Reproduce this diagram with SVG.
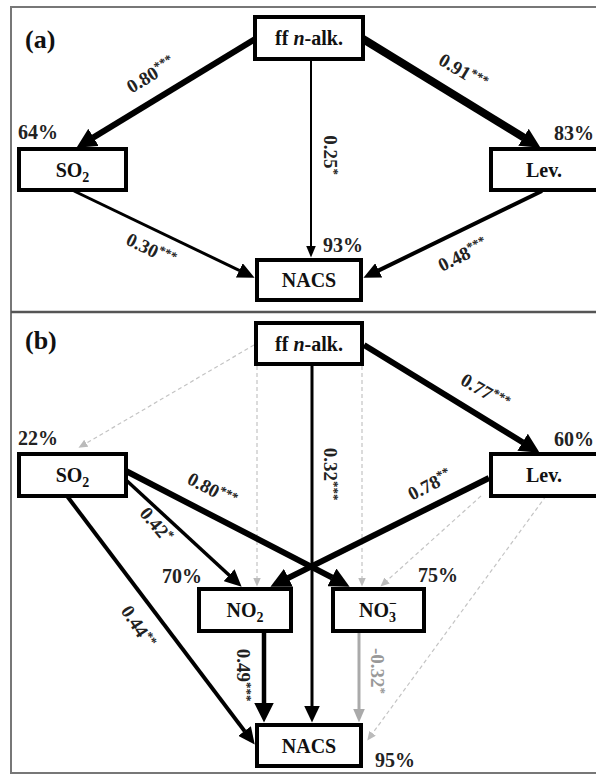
<svg xmlns="http://www.w3.org/2000/svg" width="596" height="774" viewBox="0 0 596 774">
<defs>
<style>
.box{fill:#fff;stroke:#000;stroke-width:4}
.nt{font-family:"Liberation Serif","Times New Roman",serif;font-weight:bold;font-size:20px;fill:#111;text-anchor:middle}
.pct{font-family:"Liberation Serif","Times New Roman",serif;font-weight:bold;font-size:20px;fill:#222}
.lbl{font-family:"Liberation Serif","Times New Roman",serif;font-weight:bold;font-size:19px;fill:#222;text-anchor:middle}
.gl{fill:#999}
.st{font-size:13px}
.pl{font-family:"Liberation Serif","Times New Roman",serif;font-weight:bold;font-size:26px;fill:#111}
.k{stroke:#000;fill:none}
.dg{stroke:#c4c4c4;stroke-width:1.2;stroke-dasharray:4 3;fill:none}
.sg{stroke:#aaa;stroke-width:3;fill:none}
</style>
<marker id="big" markerUnits="userSpaceOnUse" orient="auto" viewBox="0 -10 20 20" markerWidth="20" markerHeight="20" refX="0.5" refY="0"><path d="M0,-10 L20,0 L0,10 Z" fill="#000"/></marker>
<marker id="md" markerUnits="userSpaceOnUse" orient="auto" viewBox="0 -8 17 16" markerWidth="17" markerHeight="16" refX="0.5" refY="0"><path d="M0,-8 L17,0 L0,8 Z" fill="#000"/></marker>
<marker id="sm" markerUnits="userSpaceOnUse" orient="auto" viewBox="0 -5 12 10" markerWidth="12" markerHeight="10" refX="0.5" refY="0"><path d="M0,-5 L12,0 L0,5 Z" fill="#000"/></marker>
<marker id="gy" markerUnits="userSpaceOnUse" orient="auto" viewBox="0 -4 9 8" markerWidth="9" markerHeight="8" refX="0.5" refY="0"><path d="M0,-4 L9,0 L0,4 Z" fill="#bbb"/></marker>
<marker id="gy2" markerUnits="userSpaceOnUse" orient="auto" viewBox="0 -6 14 12" markerWidth="14" markerHeight="12" refX="0.5" refY="0"><path d="M0,-6 L14,0 L0,6 Z" fill="#aaa"/></marker>
</defs>

<g id="frame">
<rect x="11" y="7" width="600" height="766" fill="none" stroke="#777" stroke-width="2"/>
<line x1="11" y1="312" x2="596" y2="312" stroke="#555" stroke-width="2.5"/>
<text class="pl" x="25" y="48">(a)</text>
<text class="pl" x="25" y="349">(b)</text>
</g>

<g id="connectors">
<!-- panel a -->
<path class="k" d="M255,39 L93.1,137.6" stroke-width="6" marker-end="url(#big)"/>
<path class="k" d="M363,39 L523.9,137.6" stroke-width="8" marker-end="url(#big)"/>
<path class="k" d="M311,61 L311,246" stroke-width="2" marker-end="url(#sm)"/>
<path class="k" d="M74,191 L239.7,270.6" stroke-width="3" marker-end="url(#md)"/>
<path class="k" d="M542,191 L378.3,270.6" stroke-width="4" marker-end="url(#md)"/>
<!-- panel b -->
<path class="dg" d="M254,345 L85.8,443.5" marker-end="url(#gy)"/>
<path class="k" d="M364,345 L523,442.5" stroke-width="6" marker-end="url(#big)"/>
<path class="dg" d="M257,366 L257,578" marker-end="url(#gy)"/>
<path class="dg" d="M362,366 L362,578" marker-end="url(#gy)"/>
<path class="dg" d="M481,496 L386.7,580.9" marker-end="url(#gy)"/>
<path class="dg" d="M546,496 L372.3,733.7" marker-end="url(#gy)"/>
<path class="k" d="M312,366 L312,706" stroke-width="3" marker-end="url(#md)"/>
<path class="k" d="M126,480 L229.5,575.5" stroke-width="3.5" marker-end="url(#md)"/>
<path class="k" d="M126,471 L332.3,577.7" stroke-width="6" marker-end="url(#big)"/>
<path class="k" d="M489,478 L287.9,578.1" stroke-width="6" marker-end="url(#big)"/>
<path class="k" d="M67,496 L244.8,731.4" stroke-width="4" marker-end="url(#md)"/>
<path class="k" d="M264,633 L264,703" stroke-width="4.5" marker-end="url(#big)"/>
<path class="sg" d="M359,633 L359,709" marker-end="url(#gy2)"/>

<!-- labels -->
<text class="lbl" transform="translate(151,75) rotate(-31)" y="6">0.80<tspan class="st" dy="-6">***</tspan></text>
<text class="lbl" transform="translate(463,72) rotate(31)" y="6">0.91<tspan class="st" dy="-6">***</tspan></text>
<text class="lbl" transform="translate(330,155) rotate(90)" y="6">0.25<tspan class="st" dy="-6">*</tspan></text>
<text class="lbl" transform="translate(151,250) rotate(26)" y="6">0.30<tspan class="st" dy="-6">***</tspan></text>
<text class="lbl" transform="translate(463,255) rotate(-26)" y="6">0.48<tspan class="st" dy="-6">***</tspan></text>
<text class="lbl" transform="translate(485,392) rotate(31)" y="6">0.77<tspan class="st" dy="-6">***</tspan></text>
<text class="lbl" transform="translate(330,474) rotate(90)" y="6">0.32<tspan class="st" dy="-6">***</tspan></text>
<text class="lbl" transform="translate(212,490) rotate(28)" y="6">0.80<tspan class="st" dy="-6">***</tspan></text>
<text class="lbl" transform="translate(430,485) rotate(-27)" y="6">0.78<tspan class="st" dy="-6">**</tspan></text>
<text class="lbl" transform="translate(156,525) rotate(50)" y="6">0.42<tspan class="st" dy="-6">*</tspan></text>
<text class="lbl" transform="translate(138,627) rotate(57)" y="6">0.44<tspan class="st" dy="-6">**</tspan></text>
<text class="lbl" transform="translate(243,675) rotate(90)" y="6">0.49<tspan class="st" dy="-6">***</tspan></text>
<text class="lbl gl" transform="translate(377,671) rotate(90)" y="6">-0.32<tspan class="st" dy="-6">*</tspan></text>
</g>

<g id="ffa">
<rect class="box" x="255" y="17" width="108" height="42"/>
<text class="nt" x="309" y="45">ff <tspan font-style="italic">n</tspan>-alk.</text>
</g>
<g id="so2a">
<rect class="box" x="19" y="149" width="107" height="41"/>
<text class="nt" x="72.5" y="177">SO<tspan font-size="14" dy="5">2</tspan></text>
<text class="pct" x="18" y="139">64%</text>
</g>
<g id="leva">
<rect class="box" x="491" y="149" width="107" height="41"/>
<text class="nt" x="544" y="177">Lev.</text>
<text class="pct" x="554" y="140">83%</text>
</g>
<g id="nacsa">
<rect class="box" x="257" y="260" width="104" height="40"/>
<text class="nt" x="309" y="287">NACS</text>
<text class="pct" x="323" y="252">93%</text>
</g>

<g id="ffb">
<rect class="box" x="256" y="323" width="106" height="41"/>
<text class="nt" x="309" y="351">ff <tspan font-style="italic">n</tspan>-alk.</text>
</g>
<g id="so2b">
<rect class="box" x="19" y="454" width="107" height="42"/>
<text class="nt" x="72.5" y="482">SO<tspan font-size="14" dy="5">2</tspan></text>
<text class="pct" x="18" y="445">22%</text>
</g>
<g id="levb">
<rect class="box" x="491" y="454" width="107" height="42"/>
<text class="nt" x="544" y="482">Lev.</text>
<text class="pct" x="554" y="446">60%</text>
</g>
<g id="no2">
<rect class="box" x="199" y="589" width="92" height="42"/>
<text class="nt" x="245" y="617">NO<tspan font-size="14" dy="5">2</tspan></text>
<text class="pct" x="162" y="583">70%</text>
</g>
<g id="no3">
<rect class="box" x="333" y="589" width="91" height="42"/>
<text class="nt" style="text-anchor:start" x="359" y="617">NO<tspan font-size="14" x="389" y="622">3</tspan><tspan font-size="14" x="389" y="608">−</tspan></text>
<text class="pct" x="418" y="582">75%</text>
</g>
<g id="nacsb">
<rect class="box" x="257" y="725" width="104" height="41"/>
<text class="nt" x="309" y="753">NACS</text>
<text class="pct" x="375" y="767">95%</text>
</g>
</svg>
